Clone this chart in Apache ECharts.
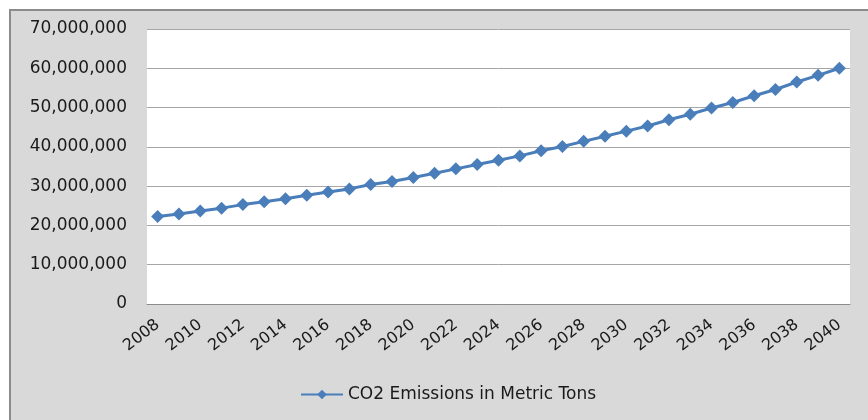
<!DOCTYPE html>
<html>
<head>
<meta charset="utf-8">
<script src="https://cdn.jsdelivr.net/npm/echarts@6/dist/echarts.min.js"></script>
<style>
  html, body { margin: 0; padding: 0; background: #ffffff; }
  #chart { width: 868px; height: 420px; }
</style>
</head>
<body>
<div id="chart"></div>
<script>
// Projected CO2 emissions, 2008-2040
const years = [
  '2008','2009','2010','2011','2012','2013','2014','2015','2016','2017','2018',
  '2019','2020','2021','2022','2023','2024','2025','2026','2027','2028','2029',
  '2030','2031','2032','2033','2034','2035','2036','2037','2038','2039','2040'
];
const emissions = [
  22300000, 22900000, 23700000, 24400000, 25300000, 26000000, 26800000, 27700000,
  28500000, 29300000, 30400000, 31200000, 32200000, 33300000, 34400000, 35500000,
  36600000, 37700000, 39000000, 40100000, 41400000, 42700000, 44000000, 45300000,
  46900000, 48300000, 49900000, 51300000, 53000000, 54600000, 56500000, 58200000,
  60000000
];
const seriesName = 'CO2 Emissions in Metric Tons';
const yMax = 70000000;
const yStep = 10000000;

const chart = echarts.init(document.getElementById('chart'), null, { renderer: 'canvas' });

const fmt = v => v === 0 ? '0' : v.toLocaleString('en-US');

chart.setOption({
  animation: false,
  backgroundColor: '#ffffff',
  graphic: [{
    type: 'rect',
    z: -10,
    silent: true,
    shape: { x: 10, y: 10, width: 880, height: 440 },
    style: { fill: '#d9d9d9', stroke: '#8c8c8c', lineWidth: 2 }
  }],
  grid: {
    left: 147, right: 18, top: 29, bottom: 116,
    show: true, backgroundColor: '#ffffff', borderWidth: 0
  },
  legend: {
    bottom: 12,
    left: 295,
    itemWidth: 42,
    itemHeight: 12,
    itemGap: 4,
    textStyle: { fontFamily: 'DejaVu Sans', fontSize: 17, color: '#1a1a1a' },
    data: [seriesName]
  },
  xAxis: {
    type: 'category',
    data: years,
    boundaryGap: true,
    axisLine: { lineStyle: { color: '#8c8c8c', width: 1 } },
    axisTick: { show: false },
    axisLabel: {
      interval: 1,
      rotate: 38,
      margin: 19,
      fontFamily: 'DejaVu Sans',
      fontSize: 16,
      color: '#1a1a1a'
    }
  },
  yAxis: {
    type: 'value',
    min: 0,
    max: yMax,
    interval: yStep,
    axisLine: { show: false },
    axisTick: { show: false },
    splitLine: { lineStyle: { color: '#a6a6a6', width: 1 } },
    axisLabel: {
      margin: 20,
      fontFamily: 'DejaVu Sans',
      fontSize: 17,
      color: '#1a1a1a',
      formatter: fmt
    }
  },
  series: [{
    name: seriesName,
    type: 'line',
    data: emissions,
    symbol: 'diamond',
    symbolSize: 13,
    lineStyle: { color: '#4a7ebb', width: 3 },
    itemStyle: { color: '#4a7ebb' }
  }]
});
</script>
</body>
</html>
